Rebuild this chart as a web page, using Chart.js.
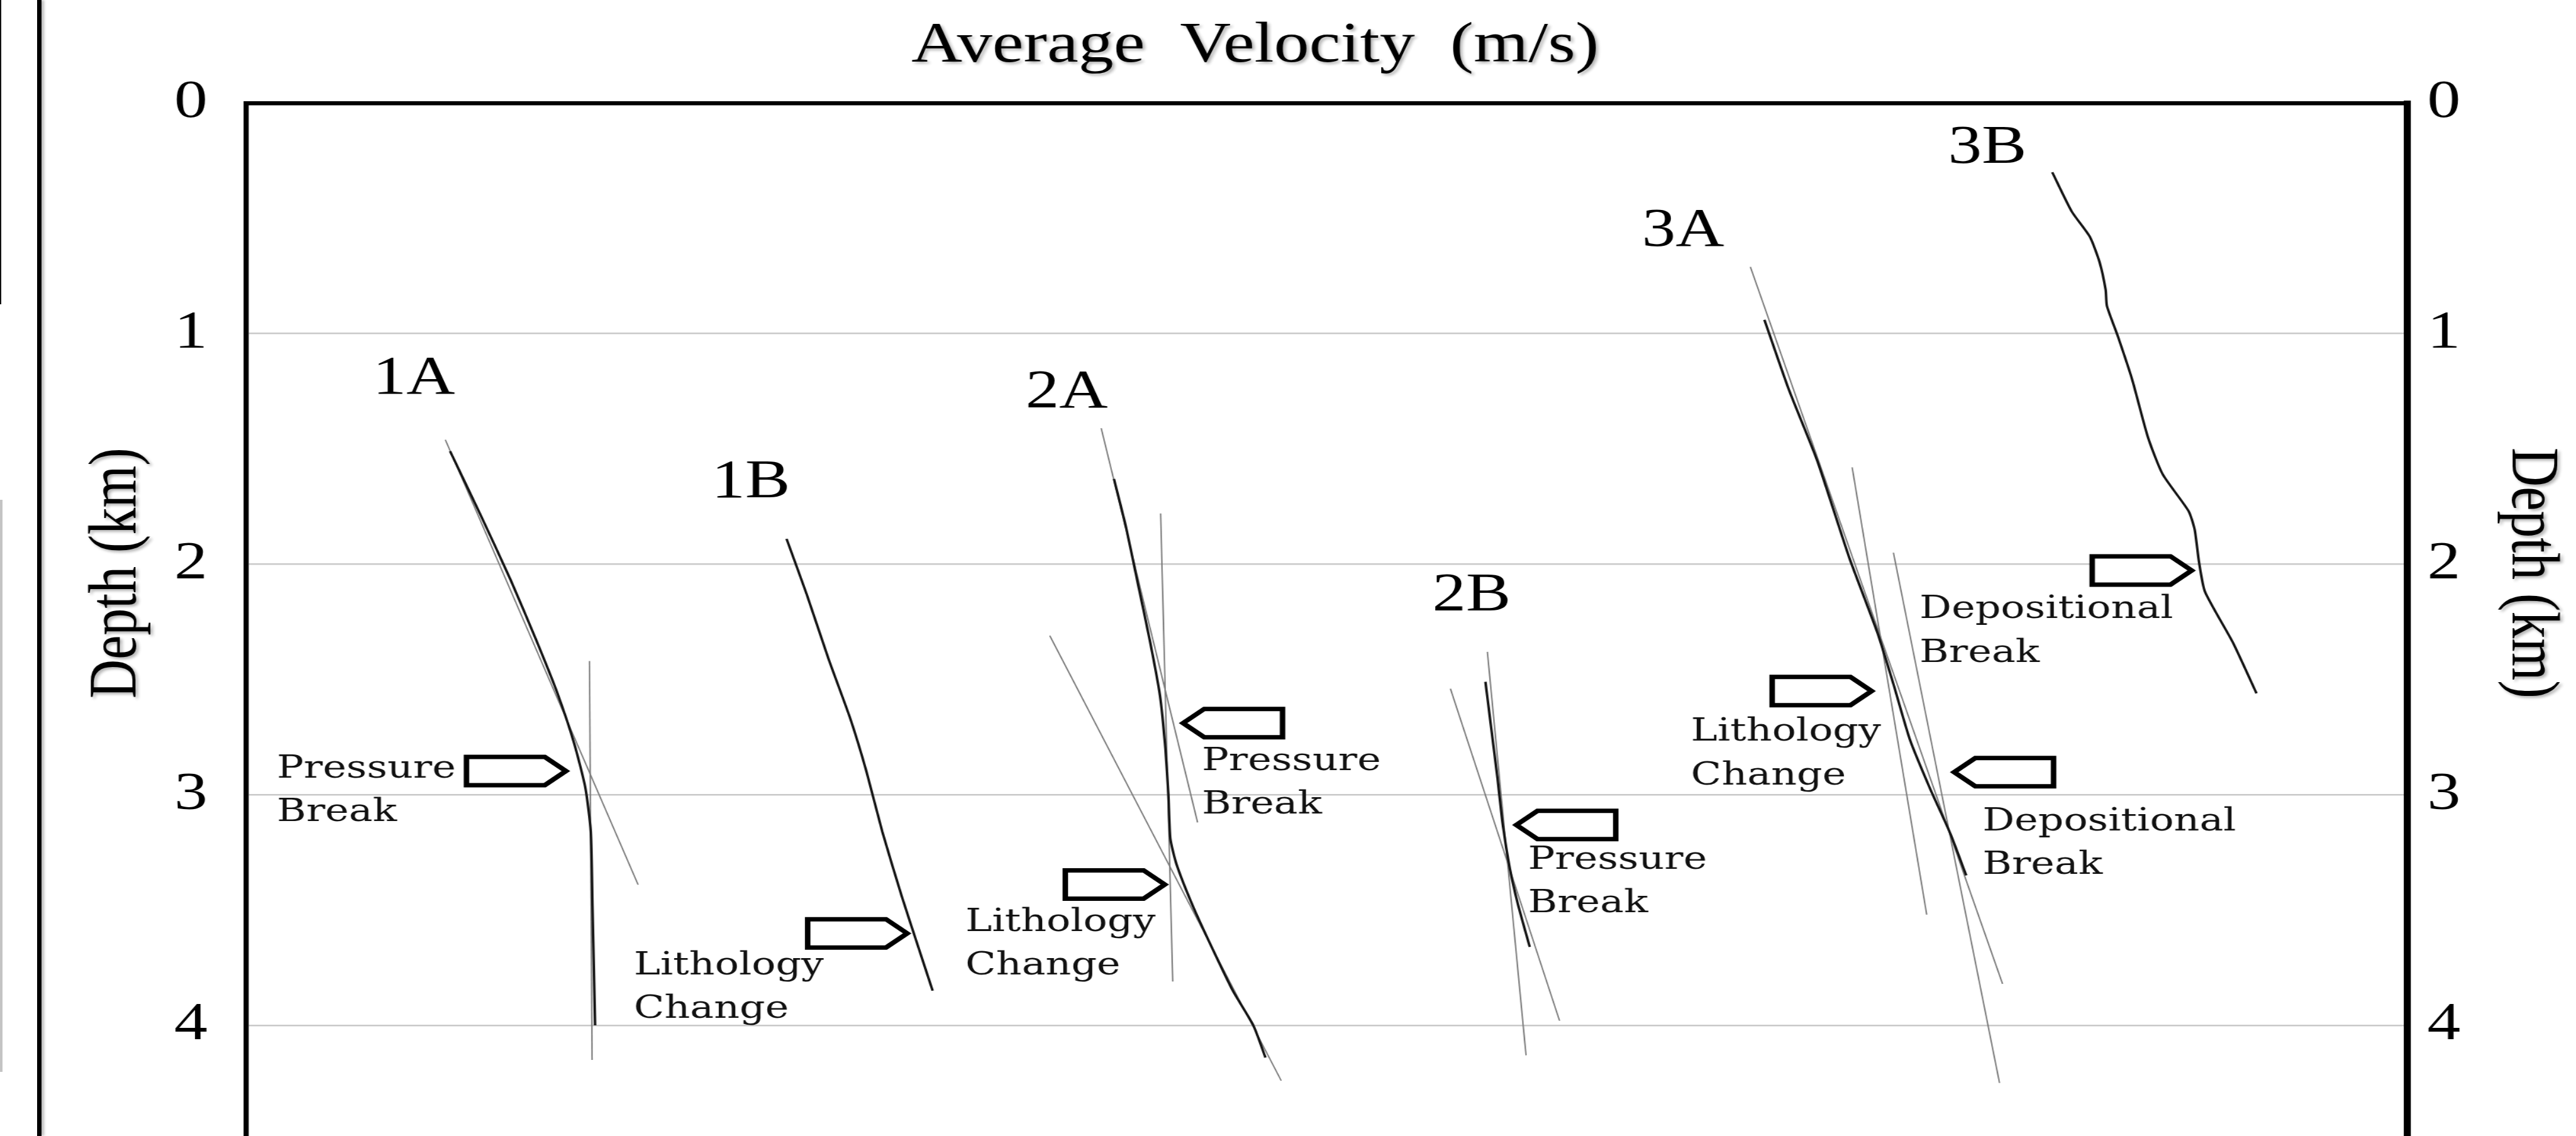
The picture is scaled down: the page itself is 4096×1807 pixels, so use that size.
<!DOCTYPE html>
<html>
<head>
<meta charset="utf-8">
<title>Average velocity against depth</title>
<script src="https://cdn.jsdelivr.net/npm/chart.js@4.4.1/dist/chart.umd.min.js"></script>
<style>
  html, body { margin: 0; padding: 0; background: #fff; overflow: hidden; }
  body { width: 4096px; height: 1807px; position: relative; }
  /* figure is laid out narrow and widened, which gives the broad serif lettering */
  #stage { position: absolute; left: 0; top: 0; width: 3290px; height: 1807px;
           transform: scaleX(1.24498); transform-origin: 0 0; }
  .edge { position: absolute; }
</style>
</head>
<body>
<div class="edge" style="left:0;top:0;width:2px;height:484px;background:#111"></div>
<div class="edge" style="left:0;top:795px;width:4px;height:910px;background:#c4c4c4"></div>
<div class="edge" style="left:59px;top:0;width:7px;height:1807px;background:#000;box-shadow:4px 0 4px #bbb"></div>
<div id="stage"><canvas id="chart" width="3290" height="1807"></canvas></div>
<script>
// velocity position across the frame (0-100), depth in km
const depthTicks = [0, 1, 2, 3, 4];

const well1A = [[9.45, 1.51], [10.88, 1.79], [12.26, 2.07], [13.44, 2.33], [14.42, 2.56],
                [15.20, 2.78], [15.71, 2.97], [15.96, 3.16], [16.04, 3.48], [16.16, 4.00]];
const well1B = [[25.02, 1.89], [25.95, 2.13], [26.96, 2.41], [27.97, 2.67], [28.72, 2.90],
                [29.45, 3.16], [30.35, 3.44], [31.08, 3.65], [31.78, 3.85]];
const well2A = [[40.17, 1.63], [40.73, 1.84], [41.29, 2.09], [41.85, 2.34], [42.30, 2.57],
                [42.55, 2.80], [42.69, 3.00], [42.78, 3.19], [43.06, 3.30], [43.81, 3.48],
                [44.74, 3.67], [45.67, 3.85], [46.62, 4.00], [47.18, 4.14]];
const well2B = [[57.36, 2.51], [57.64, 2.72], [57.92, 2.93], [58.15, 3.12], [58.49, 3.32],
                [58.85, 3.47], [59.41, 3.66]];
const well3A = [[70.27, 0.94], [71.39, 1.24], [72.71, 1.55], [74.19, 1.97], [75.51, 2.30],
                [76.24, 2.52], [77.00, 2.76], [77.92, 2.97], [78.88, 3.17], [79.61, 3.35]];
const well3B = [[83.59, 0.30], [84.49, 0.47], [85.33, 0.58], [85.78, 0.69], [86.06, 0.81],
                [86.12, 0.88], [86.62, 1.01], [87.29, 1.20], [88.02, 1.45], [88.70, 1.61],
                [89.90, 1.77], [90.18, 1.85], [90.38, 1.99], [90.66, 2.12], [91.95, 2.34],
                [93.04, 2.56]];

// straight trend segments fitted to each well
const fits1A = [[[9.23, 1.46], [18.15, 3.39]], [[15.90, 2.42], [16.02, 4.15]]];
const fits2A = [[[39.58, 1.41], [44.04, 3.12]], [[42.33, 1.78], [42.89, 3.81]], [[37.20, 2.31], [47.91, 4.24]]];
const fits2B = [[[55.74, 2.54], [60.79, 3.98]], [[57.45, 2.38], [59.24, 4.13]]];
const fits3A = [[[69.62, 0.71], [81.29, 3.82]], [[74.33, 1.58], [77.78, 3.52]], [[76.24, 1.95], [81.15, 4.25]]];

const wellNames = ['1A', '1B', '2A', '2B', '3A', '3B'];
const wellCurves = [well1A, well1B, well2A, well2B, well3A, well3B];
const wellFits = [fits1A, [], fits2A, fits2B, fits3A, []];
const nameAt = [[7.77, 1.26], [23.37, 1.71], [37.98, 1.32], [56.72, 2.20], [66.51, 0.62], [80.59, 0.26]];

// break markers: tag tip, pointing direction (1 right, -1 left), text anchor
const breaks = [
  { text: ['Pressure', 'Break'], tip: [14.81, 2.897], dir: 1, at: [1.43, 2.926] },
  { text: ['Lithology', 'Change'], tip: [30.60, 3.601], dir: 1, at: [17.95, 3.779] },
  { text: ['Pressure', 'Break'], tip: [43.37, 2.689], dir: -1, at: [44.24, 2.892] },
  { text: ['Lithology', 'Change'], tip: [42.52, 3.389], dir: 1, at: [33.30, 3.591] },
  { text: ['Pressure', 'Break'], tip: [58.79, 3.131], dir: -1, at: [59.33, 3.320] },
  { text: ['Lithology', 'Change'], tip: [75.23, 2.550], dir: 1, at: [66.87, 2.766] },
  { text: ['Depositional', 'Break'], tip: [79.05, 2.902], dir: -1, at: [80.36, 3.155] },
  { text: ['Depositional', 'Break'], tip: [90.04, 2.027], dir: 1, at: [77.45, 2.234] }
];

const serif = "'Liberation Serif', 'Times New Roman', serif";
const wideSerif = "'DejaVu Serif', serif";

const toPoints = pts => pts.map(([x, y]) => ({ x, y }));

const datasets = [];
wellNames.forEach((name, i) => {
  datasets.push({
    label: name,
    data: toPoints(wellCurves[i]),
    borderColor: '#141414',
    borderWidth: 3.2,
    tension: 0.2
  });
});
wellNames.forEach((name, i) => {
  wellFits[i].forEach((seg, k) => {
    datasets.push({
      label: name + ' trend ' + (k + 1),
      data: toPoints(seg),
      borderColor: '#7a7a7a',
      borderWidth: 1.8
    });
  });
});

function drawTag(ctx, tx, ty, dir) {
  const len = 127, tip = 27, half = 22.5;
  const back = tx - dir * len;
  const neck = tx - dir * tip;
  ctx.beginPath();
  ctx.moveTo(back, ty - half);
  ctx.lineTo(neck, ty - half);
  ctx.lineTo(tx, ty);
  ctx.lineTo(neck, ty + half);
  ctx.lineTo(back, ty + half);
  ctx.closePath();
  ctx.fillStyle = '#fff';
  ctx.fill();
  ctx.lineWidth = 7;
  ctx.lineJoin = 'miter';
  ctx.strokeStyle = '#000';
  ctx.stroke();
}

const annotate = {
  id: 'annotate',
  afterDatasetsDraw(chart) {
    const { ctx, scales: { x, y } } = chart;
    ctx.save();
    ctx.fillStyle = '#000';
    ctx.textAlign = 'center';
    ctx.textBaseline = 'alphabetic';
    ctx.font = '86px ' + serif;
    wellNames.forEach((name, i) => {
      ctx.fillText(name, x.getPixelForValue(nameAt[i][0]), y.getPixelForValue(nameAt[i][1]));
    });

    breaks.forEach(b => {
      drawTag(ctx, x.getPixelForValue(b.tip[0]), y.getPixelForValue(b.tip[1]), b.dir);
      ctx.fillStyle = '#111';
      ctx.textAlign = 'left';
      ctx.font = '51px ' + wideSerif;
      const lx = x.getPixelForValue(b.at[0]);
      const ly = y.getPixelForValue(b.at[1]);
      b.text.forEach((line, k) => ctx.fillText(line, lx, ly + k * 69.4));
    });
    ctx.restore();
  },
  afterDraw(chart) {
    const { ctx, chartArea: area } = chart;
    ctx.save();
    ctx.fillStyle = '#000';
    ctx.shadowColor = 'rgba(0,0,0,0.3)';
    ctx.shadowBlur = 4;
    ctx.shadowOffsetX = 3;
    ctx.shadowOffsetY = 3;

    ctx.font = '90px ' + serif;
    ctx.textAlign = 'center';
    ctx.textBaseline = 'alphabetic';
    ctx.fillText('Average  Velocity  (m/s)', (area.left + area.right) / 2 - 91, area.top - 66);

    const midY = (area.top + area.bottom) / 2 - 74;
    ctx.font = '86px ' + serif;
    ctx.textBaseline = 'middle';
    ctx.save();
    ctx.translate(area.left - 164, midY);
    ctx.rotate(-Math.PI / 2);
    ctx.fillText('Depth (km)', 0, 0);
    ctx.restore();
    ctx.save();
    ctx.translate(area.right + 158, midY);
    ctx.rotate(Math.PI / 2);
    ctx.fillText('Depth (km)', 0, 0);
    ctx.restore();
    ctx.restore();
  }
};

const depthAxis = (side) => ({
  type: 'linear',
  position: side,
  reverse: true,
  min: 0,
  max: 4.48,
  afterBuildTicks(scale) { scale.ticks = depthTicks.map(v => ({ value: v })); },
  ticks: {
    autoSkip: false,
    color: '#000',
    font: { family: serif, size: 85 },
    padding: side === 'left' ? 49 : 26
  },
  grid: side === 'left'
    ? { color: '#c9c9c9', lineWidth: 2.6, drawTicks: false }
    : { drawOnChartArea: false, drawTicks: false },
  border: { display: true, color: '#000', width: side === 'left' ? 6.6 : 9 },
  afterFit(scale) {
    scale.width = side === 'left' ? 314 : 216;
    scale.paddingTop = 0;
    scale.paddingBottom = 0;
  }
});

new Chart(document.getElementById('chart'), {
  type: 'scatter',
  data: { datasets },
  options: {
    responsive: false,
    animation: false,
    showLine: true,
    layout: { padding: 0, autoPadding: false },
    elements: { point: { radius: 0, hoverRadius: 0 } },
    plugins: { legend: { display: false }, tooltip: { enabled: false } },
    scales: {
      x: {
        type: 'linear',
        position: 'top',
        min: 0,
        max: 100,
        ticks: { display: false },
        grid: { display: false, drawTicks: false },
        border: { display: true, color: '#000', width: 6.6 },
        afterFit(scale) {
          scale.height = 164;
          scale.paddingLeft = 0;
          scale.paddingRight = 0;
        }
      },
      y: depthAxis('left'),
      y2: depthAxis('right')
    }
  },
  plugins: [annotate]
});
</script>
</body>
</html>
